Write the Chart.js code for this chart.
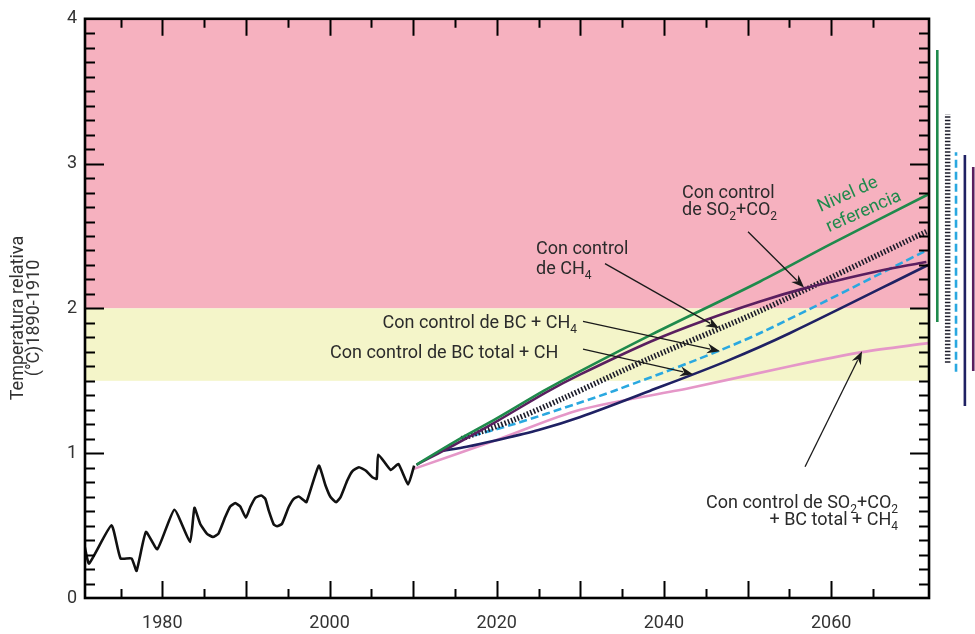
<!DOCTYPE html>
<html><head><meta charset="utf-8">
<script src="https://cdn.jsdelivr.net/npm/chart.js@4.4.0/dist/chart.umd.min.js"></script>
<style>html,body{margin:0;padding:0;background:#fff;}#wrap{width:975px;height:634px;position:relative;}</style>
</head><body><div id="wrap"><canvas id="c" width="975" height="634"></canvas></div>
<script>
// ---------- DATA ----------
const histYears = [1970.72,1971.24,1973.92,1975.0,1976.32,1976.92,1978.04,1979.4,1981.44,1983.32,1983.84,1984.52,1985.32,1986.04,1986.72,1987.52,1988.12,1988.72,1989.32,1990.0,1990.52,1991.12,1991.84,1992.32,1992.72,1993.32,1993.72,1994.32,1995.12,1995.72,1996.32,1996.84,1997.24,1998.72,1999.52,2000.12,2000.8,2001.32,2002.12,2002.72,2003.52,2004.32,2005.12,2005.64,2005.84,2007.32,2008.24,2009.4,2010.12];
const histTemp  = [0.353,0.238,0.502,0.273,0.273,0.188,0.456,0.337,0.610,0.387,0.623,0.513,0.445,0.422,0.445,0.559,0.632,0.655,0.632,0.555,0.628,0.692,0.708,0.685,0.605,0.509,0.495,0.513,0.628,0.685,0.701,0.678,0.662,0.914,0.777,0.697,0.662,0.697,0.811,0.875,0.903,0.880,0.834,0.823,0.990,0.884,0.926,0.784,0.914];

const refYears = [2010.4,2015,2020,2025.6,2030,2038.5,2051.5,2060,2071.7];
const refTemp  = [0.92,1.08,1.24,1.43,1.567,1.819,2.186,2.445,2.79];

const ch4Years = [2010.4,2015,2020,2025.9,2030,2038.5,2045,2051.5,2056.9,2062,2067.3,2071.4];
const ch4Temp  = [0.92,1.06,1.22,1.42,1.544,1.773,1.92,2.048,2.14,2.21,2.277,2.32];

const so2Years = [2015.8,2022,2027.6,2038.4,2051.4,2071.4];
const so2Temp  = [1.10,1.23,1.37,1.658,1.98,2.53];

const bcCh4Years = [2015.8,2022,2030,2034,2043.5,2051.9,2071.4];
const bcCh4Temp  = [1.10,1.20,1.35,1.43,1.636,1.84,2.40];

const bcTotYears = [2013.6,2016.4,2020,2025,2030,2038.3,2047.5,2055.1,2071.6];
const bcTotTemp  = [1.017,1.045,1.09,1.16,1.25,1.43,1.636,1.83,2.30];

const allYears = [2010.0,2020.4,2030,2043.1,2055.1,2063.7,2071.6];
const allTemp  = [0.89,1.10,1.30,1.45,1.601,1.698,1.76];

// ranges shown to the right of the frame (low, high)
const rangeYears = [2072.7,2073.94,2074.94,2076.0,2077.0];
const rangeLow   = [1.906,1.624,1.562,1.326,1.567];
const rangeHigh  = [3.785,3.342,3.079,3.06,2.976];

const xTickLabels = [1980,2000,2020,2040,2060];
const yTickLabels = [0,1,2,3,4];
const bandFrom = [2,1.5];
const bandTo   = [4,2];

// ---------- STYLE / AXIS CONFIG ----------
const X_MIN = 1970.75, X_MAX = 2077.21, FRAME_END = 2071.71;
const C = {
  hist:'#111111', ref:'#1f8a4c', ch4:'#5a1f5f', so2:'#1c1c2a', bcCh4:'#2aa8e0', bcTot:'#1f2163', all:'#e597c8'
};
const bandColors = ['#f6b1bf','#f4f5c9'];
const FONT = 'Roboto, "Noto Sans", sans-serif';

function pts(xs, ys){ return xs.map((x,i)=>({x:x, y:ys[i]})); }
function line(label, xs, ys, color, extra){
  return Object.assign({label, data:pts(xs,ys), borderColor:color, backgroundColor:color,
    borderWidth:2.6, pointRadius:0, showLine:true, fill:false, tension:0.3, borderCapStyle:'butt'}, extra||{});
}
const rangeStyles = [
  {color:C.ref, w:2.6, dash:[]},
  {color:C.so2, w:5.5, dash:[1.6,1.9]},
  {color:C.bcCh4, w:2.6, dash:[8,4]},
  {color:C.bcTot, w:2.6, dash:[]},
  {color:C.ch4, w:2.6, dash:[]}
];
const rangeSets = rangeYears.map((x,i)=>line('range'+i,[x,x],[rangeLow[i],rangeHigh[i]],rangeStyles[i].color,
  {borderWidth:rangeStyles[i].w, borderDash:rangeStyles[i].dash, tension:0}));

const datasets = [
  line('Histórico', histYears, histTemp, C.hist, {tension:0.15, borderWidth:2.6, order:1}),
  line('Con control de SO2+CO2 + BC total + CH4', allYears, allTemp, C.all, {order:7}),
  line('Con control de BC total + CH', bcTotYears, bcTotTemp, C.bcTot, {order:6}),
  line('Con control de BC + CH4', bcCh4Years, bcCh4Temp, C.bcCh4, {borderDash:[8,4], order:5}),
  line('Con control de SO2+CO2', so2Years, so2Temp, C.so2, {borderDash:[1.6,1.9], borderWidth:5.5, order:4}),
  line('Con control de CH4', ch4Years, ch4Temp, C.ch4, {order:3}),
  line('Nivel de referencia', refYears, refTemp, C.ref, {order:2}),
  ...rangeSets
];

// annotations in data coordinates
const annotations = [
  {lines:[[['Con control',0]],[['de SO',0],['2',1],['+CO',0],['2',1]]], x:2042.17, y:[2.763,2.643], align:'left',
   arrow:[2050.06,2.529,2056.76,2.144]},
  {lines:[[['Con control',0]],[['de CH',0],['4',1]]], x:2024.70, y:[2.375,2.241], align:'left',
   arrow:[2032.95,2.309,2046.59,1.863]},
  {lines:[[['Con control de BC + CH',0],['4',1]]], x:2029.60, y:[1.863], align:'right',
   arrow:[2030.32,1.911,2046.71,1.704]},
  {lines:[[['Con control de BC total + CH',0]]], x:2000.06, y:[1.656], align:'left',
   arrow:[2030.32,1.718,2043.48,1.546]},
  {lines:[[['Con control de SO',0],['2',1],['+CO',0],['2',1]],[['+ BC total + CH',0],['4',1]]], x:2068.0, y:[0.619,0.502], align:'right',
   arrow:[2056.88,0.907,2063.70,1.704]}
];

function drawRich(ctx, parts, x, y, align){
  const main = '18px '+FONT, sub = '12px '+FONT;
  let w = 0;
  parts.forEach(p=>{ ctx.font = p[1]?sub:main; w += ctx.measureText(p[0]).width; });
  let cx = align==='right' ? x - w : x;
  ctx.textAlign='left'; ctx.textBaseline='alphabetic';
  parts.forEach(p=>{ ctx.font = p[1]?sub:main; ctx.fillText(p[0], cx, y + (p[1]?5:0)); cx += ctx.measureText(p[0]).width; });
}
function arrow(ctx, x1,y1,x2,y2){
  ctx.save(); ctx.strokeStyle='#1a1a1a'; ctx.fillStyle='#1a1a1a'; ctx.lineWidth=1.3;
  const a = Math.atan2(y2-y1,x2-x1), L=13, W=5;
  const bx = x2 - L*Math.cos(a), by = y2 - L*Math.sin(a);
  ctx.beginPath(); ctx.moveTo(x1,y1); ctx.lineTo(bx+3*Math.cos(a),by+3*Math.sin(a)); ctx.stroke();
  ctx.beginPath(); ctx.moveTo(x2,y2);
  ctx.lineTo(bx - W*Math.sin(a), by + W*Math.cos(a));
  ctx.lineTo(x2 - (L-4)*Math.cos(a), y2 - (L-4)*Math.sin(a));
  ctx.lineTo(bx + W*Math.sin(a), by - W*Math.cos(a));
  ctx.closePath(); ctx.fill(); ctx.restore();
}

const decor = {
  id:'decor',
  beforeDatasetsDraw(chart){
    const {ctx, scales:{x,y}} = chart;
    const l = x.getPixelForValue(X_MIN), r = x.getPixelForValue(FRAME_END);
    ctx.save();
    bandFrom.forEach((f,i)=>{
      const t = y.getPixelForValue(bandTo[i]), b = y.getPixelForValue(f);
      ctx.fillStyle = bandColors[i]; ctx.fillRect(l, t, r-l, b-t);
    });
    ctx.restore();
  },
  afterDatasetsDraw(chart){
    const {ctx, scales:{x,y}} = chart;
    const l = x.getPixelForValue(X_MIN), r = x.getPixelForValue(FRAME_END);
    const t = y.getPixelForValue(4), b = y.getPixelForValue(0);
    ctx.save();
    ctx.strokeStyle='#000'; ctx.lineWidth=2;
    ctx.beginPath();
    for(let i=1;i<40;i++){
      const v=i/10, py=Math.round(y.getPixelForValue(v))+0.5, len = i%10===0?19:10;
      ctx.moveTo(l,py); ctx.lineTo(l+len,py);
      ctx.moveTo(r,py); ctx.lineTo(r-len,py);
    }
    for(let yr=1975; yr<=2065; yr+=5){
      const px=Math.round(x.getPixelForValue(yr))+0.5, len = yr%10===0?17:9;
      ctx.moveTo(px,b); ctx.lineTo(px,b-len);
      ctx.moveTo(px,t); ctx.lineTo(px,t+len);
    }
    ctx.stroke();
    ctx.lineWidth=2.6; ctx.strokeRect(l,t,r-l,b-t);
    ctx.restore();
  },
  afterDraw(chart){
    const {ctx, scales:{x,y}} = chart;
    ctx.save();
    ctx.fillStyle='#2b2b2b';
    annotations.forEach(a=>{
      a.lines.forEach((ln,i)=> drawRich(ctx, ln, x.getPixelForValue(a.x), y.getPixelForValue(a.y[i]), a.align));
      arrow(ctx, x.getPixelForValue(a.arrow[0]), y.getPixelForValue(a.arrow[1]), x.getPixelForValue(a.arrow[2]), y.getPixelForValue(a.arrow[3]));
    });
    // green label
    ctx.fillStyle=C.ref; ctx.font='18px '+FONT; ctx.textAlign='center'; ctx.textBaseline='middle';
    [['Nivel de',2062.0,2.784],['referencia',2063.9,2.667]].forEach(s=>{
      ctx.save(); ctx.translate(x.getPixelForValue(s[1]), y.getPixelForValue(s[2])); ctx.rotate(-24*Math.PI/180);
      ctx.fillText(s[0],0,0); ctx.restore();
    });
    // y title
    ctx.fillStyle='#333'; ctx.font='18px '+FONT;
    ctx.save(); ctx.translate(18, 318); ctx.rotate(-Math.PI/2);
    ctx.fillText('Temperatura relativa',0,0);
    ctx.fillText('(°C)1890-1910',0,16);
    ctx.restore();
    ctx.restore();
  }
};

new Chart(document.getElementById('c'), {
  type:'line',
  data:{datasets},
  plugins:[decor],
  options:{
    responsive:false, animation:false, devicePixelRatio:1,
    layout:{padding:{top:16,left:0,right:0,bottom:0}},
    plugins:{legend:{display:false}, tooltip:{enabled:false}},
    scales:{
      x:{type:'linear', min:X_MIN, max:X_MAX,
        grid:{display:false, drawTicks:false}, border:{display:false},
        afterBuildTicks:s=>{ s.ticks = xTickLabels.map(v=>({value:v})); },
        afterFit:s=>{ s.height = 36; },
        ticks:{padding:15, color:'#333', font:{family:FONT, size:18}, callback:v=>String(v), maxRotation:0, autoSkip:false}},
      y:{type:'linear', min:0, max:4,
        grid:{display:false, drawTicks:false}, border:{display:false},
        afterBuildTicks:s=>{ s.ticks = yTickLabels.map(v=>({value:v})); },
        afterFit:s=>{ s.width = 85; },
        ticks:{padding:8, color:'#333', font:{family:FONT, size:18}, callback:v=>String(v)}}
    }
  }
});
</script></body></html>
